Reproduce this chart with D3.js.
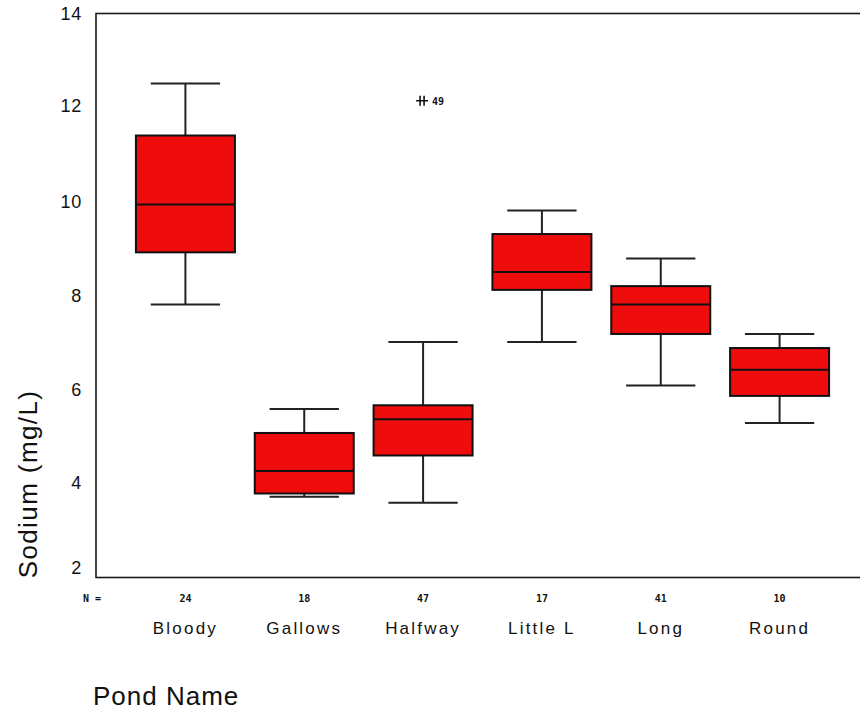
<!DOCTYPE html>
<html><head><meta charset="utf-8">
<script src="https://cdn.jsdelivr.net/npm/d3@7"></script>
<style>body{margin:0;background:#fff;} svg{display:block;}</style>
</head><body>
<svg id="c" width="860" height="713"></svg>
<script>
const categories = ["Bloody","Gallows","Halfway","Little L","Long","Round"];
const counts = [24,18,47,17,41,10];
const whiskerLow = [7.81,3.71,3.58,7.01,6.08,5.28];
const q1 = [8.92,3.78,4.59,8.12,7.18,5.86];
const median = [9.94,4.26,5.36,8.50,7.81,6.42];
const q3 = [11.41,5.07,5.66,9.31,8.20,6.88];
const whiskerHigh = [12.52,5.58,7.01,9.81,8.79,7.18];
const outlierCategory = ["Halfway"];
const outlierValue = [12.15];
const outlierLabel = ["49"];
const yTicks = [2,4,6,8,10,12,14];

const svg = d3.select("#c");
const y = d3.scaleLinear().domain([2,14]).range([577,14]);
const x = d3.scaleBand().domain(categories).range([126,839]).paddingInner(0.167).paddingOuter(0.0835);

// frame
svg.append("rect").attr("x",96).attr("y",13.5).attr("width",820).attr("height",564)
  .attr("fill","none").attr("stroke","#1a1a1a").attr("stroke-width",1.6);

// y axis labels
const yAxis = d3.axisLeft(y).tickValues(yTicks).tickSize(0).tickPadding(0).tickFormat(d3.format("d"));
const ya = svg.append("g").attr("transform","translate(82,0)").call(yAxis);
ya.select(".domain").remove();
ya.selectAll("text").attr("font-family","Liberation Sans, Arial, sans-serif").attr("font-size",18)
  .attr("fill","#111").attr("letter-spacing",0.8)
  .attr("dy", d => d===2 ? "-0.22em" : (d===12 ? "0.2em" : "0.32em"));

const data = categories.map((c,i)=>({c,n:counts[i],lo:whiskerLow[i],q1:q1[i],med:median[i],q3:q3[i],hi:whiskerHigh[i]}));
const bw = x.bandwidth();
const g = svg.append("g").selectAll("g").data(data).join("g")
  .attr("transform", d=>`translate(${x(d.c)},0)`);
const cx = bw/2, cap = bw*0.35;
g.append("line").attr("x1",cx).attr("x2",cx).attr("y1",d=>y(d.hi)).attr("y2",d=>y(d.q3)).attr("stroke","#222").attr("stroke-width",2);
g.append("line").attr("x1",cx).attr("x2",cx).attr("y1",d=>y(d.q1)).attr("y2",d=>y(d.lo)).attr("stroke","#222").attr("stroke-width",2);
g.append("line").attr("x1",cx-cap).attr("x2",cx+cap).attr("y1",d=>y(d.hi)).attr("y2",d=>y(d.hi)).attr("stroke","#222").attr("stroke-width",2);
g.append("line").attr("x1",cx-cap).attr("x2",cx+cap).attr("y1",d=>y(d.lo)).attr("y2",d=>y(d.lo)).attr("stroke","#222").attr("stroke-width",2);
g.append("rect").attr("x",0).attr("width",bw).attr("y",d=>y(d.q3)).attr("height",d=>y(d.q1)-y(d.q3))
  .attr("fill","#ee0c0c").attr("stroke","#111").attr("stroke-width",2);
g.append("line").attr("x1",0).attr("x2",bw).attr("y1",d=>y(d.med)).attr("y2",d=>y(d.med)).attr("stroke","#111").attr("stroke-width",2);

// N labels
g.append("text").attr("x",cx).attr("y",602).attr("text-anchor","middle")
  .attr("font-family","DejaVu Sans Mono, monospace").attr("font-size",10).attr("font-weight","bold").attr("fill","#111")
  .text(d=>d.n);
svg.append("text").attr("x",83).attr("y",602).attr("font-family","DejaVu Sans Mono, monospace")
  .attr("font-size",10).attr("font-weight","bold").attr("fill","#111").text("N =");

// category names
g.append("text").attr("x",cx).attr("y",634).attr("text-anchor","middle")
  .attr("font-family","Liberation Sans, Arial, sans-serif").attr("font-size",17).attr("letter-spacing",2.2).attr("fill","#111")
  .text(d=>d.c);

// outliers
outlierCategory.forEach((c,i)=>{
  const ox = x(c)+bw/2 - 1, oy = y(outlierValue[i]);
  svg.append("path").attr("d",`M${ox-6},${oy}H${ox+6}M${ox-2},${oy-5}V${oy+5}M${ox+2},${oy-5}V${oy+5}`)
    .attr("stroke","#111").attr("stroke-width",1.6).attr("fill","none");
  svg.append("text").attr("x",ox+10).attr("y",oy+4).attr("font-family","DejaVu Sans Mono, monospace")
    .attr("font-size",10).attr("font-weight","bold").attr("fill","#111").text(outlierLabel[i]);
});

// axis titles
svg.append("text").attr("x",93).attr("y",705).attr("font-family","Liberation Sans, Arial, sans-serif")
  .attr("font-size",26).attr("fill","#111").attr("letter-spacing",1).text("Pond Name");
svg.append("text").attr("transform","translate(37,484) rotate(-90)").attr("text-anchor","middle")
  .attr("font-family","Liberation Sans, Arial, sans-serif").attr("font-size",26).attr("fill","#111").attr("letter-spacing",1.4)
  .text("Sodium (mg/L)");
</script>
</body></html>
